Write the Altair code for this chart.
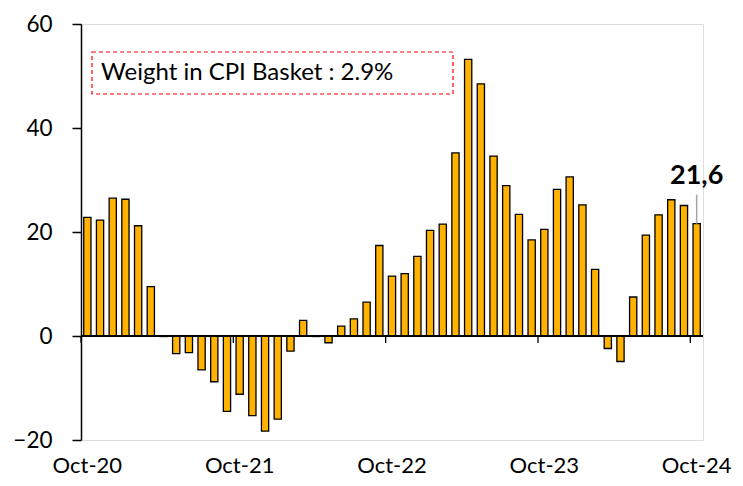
import altair as alt
import pandas as pd

# ---- data ----
months = list(pd.date_range("2020-10-01", periods=49, freq="MS").strftime("%b-%y"))
values = [
    22.8, 22.3, 26.5, 26.3, 21.2, 9.5, -0.1, -3.4, -3.2, -6.5, -8.8, -14.5,
    -11.2, -15.3, -18.3, -16.0, -2.9, 3.0, -0.1, -1.3, 1.9, 3.3, 6.5, 17.4,
    11.5, 12.0, 15.3, 20.3, 21.5, 35.2, 53.2, 48.5, 34.6, 28.9, 23.4, 18.5,
    20.5, 28.2, 30.6, 25.2, 12.8, -2.4, -4.9, 7.5, 19.4, 23.3, 26.2, 25.1,
    21.6,
]
label_months = ["Oct-20", "Oct-21", "Oct-22", "Oct-23", "Oct-24"]
y_ticks = [-20, 0, 20, 40, 60]
box_text = ["Weight in CPI Basket : 2.9%"]

df = pd.DataFrame({"month": months, "value": values})
FONT = "Lato"
BAR = "#FFB300"

x_enc = alt.X(
    "month:N", sort=months,
    scale=alt.Scale(paddingInner=0.43, paddingOuter=0.215),
    axis=alt.Axis(values=label_months, title=None, ticks=False, tickSize=0,
                  domain=False, labelAngle=0, labelFont=FONT, labelFontSize=22,
                  labelColor="black", labelPadding=15),
)
y_enc = alt.Y(
    "value:Q",
    scale=alt.Scale(domain=[-20, 60], nice=False, zero=False),
    axis=alt.Axis(values=y_ticks, title=None, grid=False, domainColor="black",
                  domainWidth=1.5, tickColor="black", tickSize=9, tickWidth=1.5,
                  labelFont=FONT, labelFontSize=22.5, labelColor="black",
                  labelPadding=20),
)

base = alt.Chart(df)

bars = base.mark_bar(color=BAR, stroke="black", strokeWidth=1.3).encode(x=x_enc, y=y_enc)

zero = alt.Chart(pd.DataFrame({"v": [0]})).mark_rule(color="black", strokeWidth=2).encode(
    y=alt.Y("v:Q")
)

ticks = base.transform_filter(
    alt.FieldOneOfPredicate(field="month", oneOf=label_months)
).mark_rule(color="black", strokeWidth=1.3, xOffset=-2.73).encode(
    x=alt.X("month:N", sort=months, bandPosition=0),
    y=alt.datum(0),
    y2=alt.datum(-1.35),
)

last = base.transform_window(
    rn="row_number()"
).transform_filter(alt.datum.rn == len(months)).transform_calculate(
    top="datum.value + 5.6",
    lbl="replace(format(datum.value, '.1f'), '.', ',')",
)

leader = last.mark_rule(color="#A6A6A6", strokeWidth=1.5).encode(
    x=alt.X("month:N", sort=months), y="value:Q", y2="top:Q"
)
last_text = last.mark_text(
    font=FONT, fontSize=27, fontWeight="bold", color="black",
    baseline="alphabetic", dy=-40,
).encode(x=alt.X("month:N", sort=months), y="value:Q", text="lbl:N")

bx = pd.DataFrame({"t": box_text})
box = alt.Chart(bx).mark_rect(
    fill="white", stroke="#FF0000", strokeDash=[4, 3], strokeWidth=1.2
).encode(x=alt.value(11), x2=alt.value(372), y=alt.value(28), y2=alt.value(70))
box_label = alt.Chart(bx).mark_text(
    font=FONT, fontSize=24, color="black", align="left", baseline="middle"
).encode(x=alt.value(20), y=alt.value(49), text="t:N")

chart = alt.layer(box, box_label, bars, ticks, zero, leader, last_text).properties(
    width=622, height=416,
    autosize=alt.AutoSizeParams(type="none"),
    padding={"left": 73, "top": 16, "right": 32, "bottom": 38},
).configure_view(stroke=None).configure(background="white")

chart.save("out.html", embed_options={"renderer": "svg", "actions": False})
